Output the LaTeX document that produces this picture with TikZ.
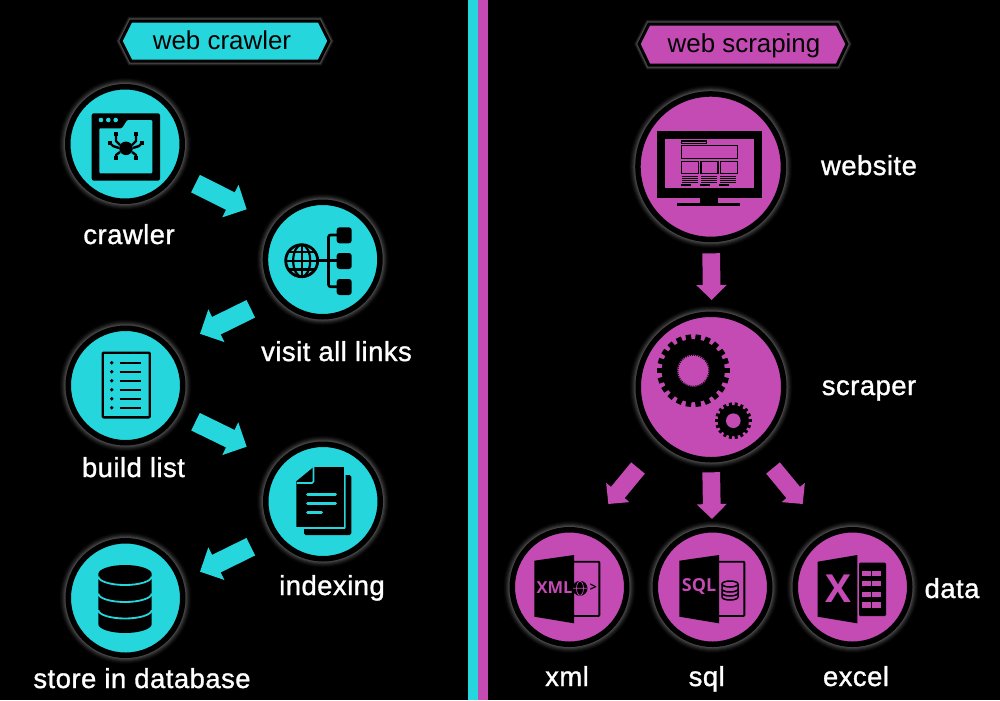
\documentclass[tikz,border=0pt]{standalone}
\usepackage{fontspec}
\setmainfont{Liberation Sans}
\newfontfamily\labfont[LetterSpace=1.8,FakeBold=1.2]{Liberation Sans}
\newfontfamily\iconfont{Open Sans}
\usetikzlibrary{arrows.meta,calc}
\definecolor{tealc}{RGB}{37,215,220}
\definecolor{magc}{RGB}{196,74,180}
\def\px{0.02cm}
\tikzset{
  glow/.style={
    preaction={draw=black!98!white,line width=17.5*\px},
    preaction={draw=black!95!white,line width=15.5*\px},
    preaction={draw=black!91!white,line width=13.5*\px},
    preaction={draw=black!86!white,line width=11.5*\px},
    preaction={draw=black!80!white,line width=9.5*\px},
    preaction={draw=black!73!white,line width=7.5*\px}},
  hexglow/.style={
    preaction={draw=black!95!white,line width=9*\px},
    preaction={draw=black!88!white,line width=7.5*\px},
    preaction={draw=black!79!white,line width=6*\px},
    preaction={draw=black!70!white,line width=4.5*\px}},
  disc/.style={circle,glow,draw=black,line width=5.5*\px,inner sep=0pt,outer sep=0pt},
  smallteal/.style={disc,fill=tealc,minimum size=114.5*\px},
  smallmag/.style={disc,fill=magc,minimum size=114.5*\px},
  bigmag/.style={disc,fill=magc,minimum size=145.5*\px},
  tealarrow/.style={draw=tealc,line width=19.5*\px,-{Triangle[length=10.4pt,width=20.1pt]}},
  magarrow/.style={draw=magc,line width=17.7*\px,-{Triangle[length=8.5pt,width=16.7pt]}},
  lab/.style={text=white,anchor=base,inner sep=0pt,font=\labfont\fontsize{15.6pt}{18pt}\selectfont},
  hextext/.style={text=black,anchor=base,inner sep=0pt,font=\fontsize{14.75pt}{18pt}\selectfont},
  hexshape/.style={hexglow,draw=black,line width=3*\px,line join=miter},
  ink/.style={draw=black,line width=2.4*\px,line cap=round,line join=round},
}
\begin{document}
\begin{tikzpicture}[x=\px,y=-\px]
\fill[black] (0,0) rectangle (1000,700);
% divider
\fill[tealc] (468,0) rectangle (478,700);
\fill[magc] (478,0) rectangle (488,700);
% banners
\path[hexshape,fill=tealc] (121,41) -- (131,21) -- (319,21) -- (329,41) -- (319,61) -- (131,61) -- cycle;
\node[hextext] (t1) at (222,49) {web crawler};
\path[hexshape,fill=magc] (639,44) -- (649,24) -- (837,24) -- (847,44) -- (837,65) -- (649,65) -- cycle;
\node[hextext] (t2) at (744,52) {web scraping};
% discs
\node[smallteal] (crawler) at (125,144) {};
\node[smallteal] (links) at (322.7,259.5) {};
\node[smallteal] (buildlist) at (125.5,385.5) {};
\node[smallteal] (indexing) at (323,501.5) {};
\node[smallteal] (store) at (125.5,598) {};
\node[bigmag] (website) at (710.7,166.7) {};
\node[bigmag] (scraper) at (711,387) {};
\node[smallmag] (xmlf) at (569.5,587) {};
\node[smallmag] (sqlf) at (712.5,587) {};
\node[smallmag] (excelf) at (852.5,587) {};
% connectors
\draw[tealarrow] ([shift={(70.5,39.6)}]crawler.center) -- ([shift={(-76,-50.2)}]links.center);
\draw[tealarrow] ([shift={(-71.9,49.3)}]links.center) -- ([shift={(74.5,-51.7)}]buildlist.center);
\draw[tealarrow] ([shift={(70,36.2)}]buildlist.center) -- ([shift={(-76.3,-54.8)}]indexing.center);
\draw[tealarrow] ([shift={(-72.2,45.2)}]indexing.center) -- ([shift={(74.5,-26.3)}]store.center);
\draw[magarrow] ([shift={(0.5,86.6)}]website.center) -- ([shift={(0.7,-87)}]scraper.center);
\draw[magarrow] ([shift={(0.2,85.3)}]scraper.center) -- ([shift={(-0.5,-68)}]sqlf.center);
\draw[magarrow] ([shift={(-73,81)}]scraper.center) -- ([shift={(38.8,-83)}]xmlf.center);
\draw[magarrow] ([shift={(62,81)}]scraper.center) -- ([shift={(-49.8,-83)}]excelf.center);
% crawler icon
\fill[black,rounded corners=1.2pt] (91.7,113.3) rectangle (160,180.7);
\fill[tealc,rounded corners=0.6pt] (99.3,128.3) -- (122,128.3) -- (127.3,120) -- (152.3,120) -- (152.3,173.3) -- (99.3,173.3) -- cycle;
\foreach \xx in {101,108.3,115.7} \fill[tealc] (\xx,120) circle[radius=2.3];
\fill[black] (126,148.3) circle[radius=6.8];
\draw[black,line width=2.4*\px,line join=round]
  (120,145) -- (116,141) -- (116,135)
  (132,145) -- (136,141) -- (136,135)
  (119,148) -- (113,146) -- (110,143)
  (133,148) -- (139,146) -- (142,143)
  (120,152) -- (116,155) -- (116,159)
  (132,152) -- (136,155) -- (136,159);
\foreach \xx/\yy in {116/134,136/134,110/143,142/143,116/158,136/158}
  \fill[black] (\xx-2,\yy-2) rectangle (\xx+2,\yy+2);
% links icon
\draw[black,line width=2.8*\px] (301.7,260.7) circle[radius=16];
\draw[black,line width=2.2*\px] (301.7,244.7) -- (301.7,276.7)
  (285.7,260.7) -- (317.7,260.7)
  (288,252) -- (315.4,252) (288,269.4) -- (315.4,269.4);
\draw[black,line width=2.2*\px] (301.7,260.7) ellipse[x radius=8.5,y radius=16];
\draw[black,line width=2.6*\px,rounded corners=1.2pt] (338,235) -- (328.5,235) -- (328.5,286.7) -- (338,286.7);
\draw[black,line width=2.6*\px] (318,260.7) -- (338,260.7);
\foreach \yy in {227.3,253,279} \fill[black,rounded corners=1.6pt] (336.7,\yy) rectangle (351.7,\yy+16);
% list icon
\draw[ink,rounded corners=0.5pt] (102.7,352.7) rectangle (149.7,417.3);
\foreach \yy in {362.7,371.7,380.7,389.7,398.7,407.7}{
  \fill[black] (111.7,\yy) circle[radius=1.9];
  \draw[black,line width=2.3*\px] (119.5,\yy) -- (140.7,\yy);
}
% indexing icon
\fill[black,rounded corners=0.9pt] (304,475) rectangle (351.3,535);
\path[fill=black,draw=tealc,line width=1.6*\px,line join=round] (313.3,466) -- (344.8,466) -- (344.8,528) -- (295.5,528) -- (295.5,480.7) -- cycle;
\fill[tealc] (294,465) -- (312.5,465) -- (295,480) -- (294,480) -- cycle;
\draw[tealc,line width=1.6*\px,rounded corners=0.8pt] (313.5,467) -- (313.5,483) -- (297,483);
\draw[tealc,line width=3*\px,line cap=round] (307.5,494) -- (335.5,494) (307.5,503.7) -- (335.5,503.7) (307.5,512.7) -- (321.5,512.7);
% database icon
\fill[black] (98.3,574) arc[start angle=180,end angle=360,x radius=26.7,y radius=9] -- (151.7,624) arc[start angle=0,end angle=180,x radius=26.7,y radius=9] -- cycle;
\foreach \yy in {576.5,593.5,610}
  \draw[tealc,line width=1.8*\px] (98.3,\yy) arc[start angle=180,end angle=0,x radius=26.7,y radius=8.5];
% website icon
\fill[black] (656.7,131) rectangle (762,198.3);
\fill[magc] (665,139.3) rectangle (754.3,188.3);
\fill[black] (700,198) rectangle (718.3,203);
\fill[black] (677.3,202.7) rectangle (740,206);
\begin{scope}[black,line width=1.3*\px]
\draw (681.7,141) rectangle (706.7,143.3);
\draw (681.7,145.7) rectangle (737.3,158.7);
\foreach \xx in {681.7,701,720.3}{
  \draw (\xx,161.7) rectangle (\xx+17,173.3);
  \foreach \yy in {176.8,178.8,180.8,182.8}
    \draw[line width=1.2*\px] (\xx,\yy) -- (\xx+16,\yy);
  \draw[line width=1.2*\px] (\xx-1,185) -- (\xx+9,185);
}
\end{scope}
% gears
\begin{scope}[shift={(693.3,370.7)}]
\fill[black] (0,0) circle[radius=31.5];
\foreach \i in {1,...,22}
  \draw[black,line width=5.5*\px] ({\i*360/22}:30) -- ({\i*360/22}:36.3);
\fill[magc] (0,0) circle[radius=16];
\draw[black,line width=1*\px,dash pattern=on 0.6pt off 0.6pt] (0,0) circle[radius=15.5];
\end{scope}
\begin{scope}[shift={(733.3,420.7)}]
\fill[black] (0,0) circle[radius=15.5];
\foreach \i in {1,...,18}
  \draw[black,line width=3*\px] ({\i*20}:14) -- ({\i*20}:18.3);
\fill[magc] (0,0) circle[radius=7.3];
\end{scope}
% xml icon
\fill[black] (534.3,560.7) -- (574,555) -- (574,623.3) -- (534.3,616.7) -- cycle;
\draw[ink,line width=1.9*\px,rounded corners=0.5pt] (574,561.7) -- (599.3,561.7) -- (599.3,616) -- (574,616);
\node[text=magc,inner sep=0pt,font=\iconfont\bfseries\fontsize{9.4pt}{11pt}\selectfont] (xmltext) at (554.5,588) {XML};
\fill[black] (580,588.3) circle[radius=7.5];
\draw[magc,line width=0.7*\px] (580,588.3) ellipse[x radius=3.5,y radius=7] (573,588.3) -- (587,588.3);
\node[text=black,inner sep=0pt,font=\iconfont\bfseries\fontsize{7pt}{8pt}\selectfont] (xmlgt) at (593.3,588) {>};
% sql icon
\fill[black] (679.3,560.7) -- (719,555) -- (719,623.3) -- (679.3,616.7) -- cycle;
\draw[ink,line width=1.9*\px,rounded corners=0.5pt] (719,561.7) -- (744.3,561.7) -- (744.3,616) -- (719,616);
\node[text=magc,inner sep=0pt,font=\iconfont\bfseries\fontsize{10.2pt}{12pt}\selectfont] (sqltext) at (699,586.5) {SQL};
\draw[black,line width=1.5*\px] (730,584) ellipse[x radius=8,y radius=3];
\draw[black,line width=1.5*\px] (722,584) -- (722,597) arc[start angle=180,end angle=0,x radius=8,y radius=3] -- (738,584);
\draw[black,line width=1.5*\px] (722,589) arc[start angle=180,end angle=0,x radius=8,y radius=3];
\draw[black,line width=1.5*\px] (722,593) arc[start angle=180,end angle=0,x radius=8,y radius=3];
% excel icon
\fill[black] (817.7,561.7) -- (857.3,555) -- (857.3,623.3) -- (817.7,616.7) -- cycle;
\node[text=magc,inner sep=0pt,font=\iconfont\bfseries\fontsize{22pt}{24pt}\selectfont] (xltext) at (838.3,589) {X};
\fill[black,rounded corners=0.6pt] (859,562.7) rectangle (886,616);
\foreach \yy in {570.7,581,591.7,602.3}{
  \fill[magc] (861.5,\yy) rectangle (870.7,\yy+5.2);
  \fill[magc] (872,\yy) rectangle (881,\yy+5.2);
}
% labels
\node[lab] (l1) at (129,244) {crawler};
\node[lab] (l2) at (336.5,361) {visit all links};
\node[lab] (l3) at (133.5,477) {build list};
\node[lab] (l4) at (332,595) {indexing};
\node[lab] (l5) at (142,688) {store in database};
\node[lab] (l6) at (869,175) {website};
\node[lab] (l7) at (869,395) {scraper};
\node[lab] (l8) at (952,598) {data};
\node[lab] (l9) at (567,686) {xml};
\node[lab] (l10) at (706.7,686) {sql};
\node[lab] (l11) at (856,686) {excel};
\end{tikzpicture}
\end{document}
